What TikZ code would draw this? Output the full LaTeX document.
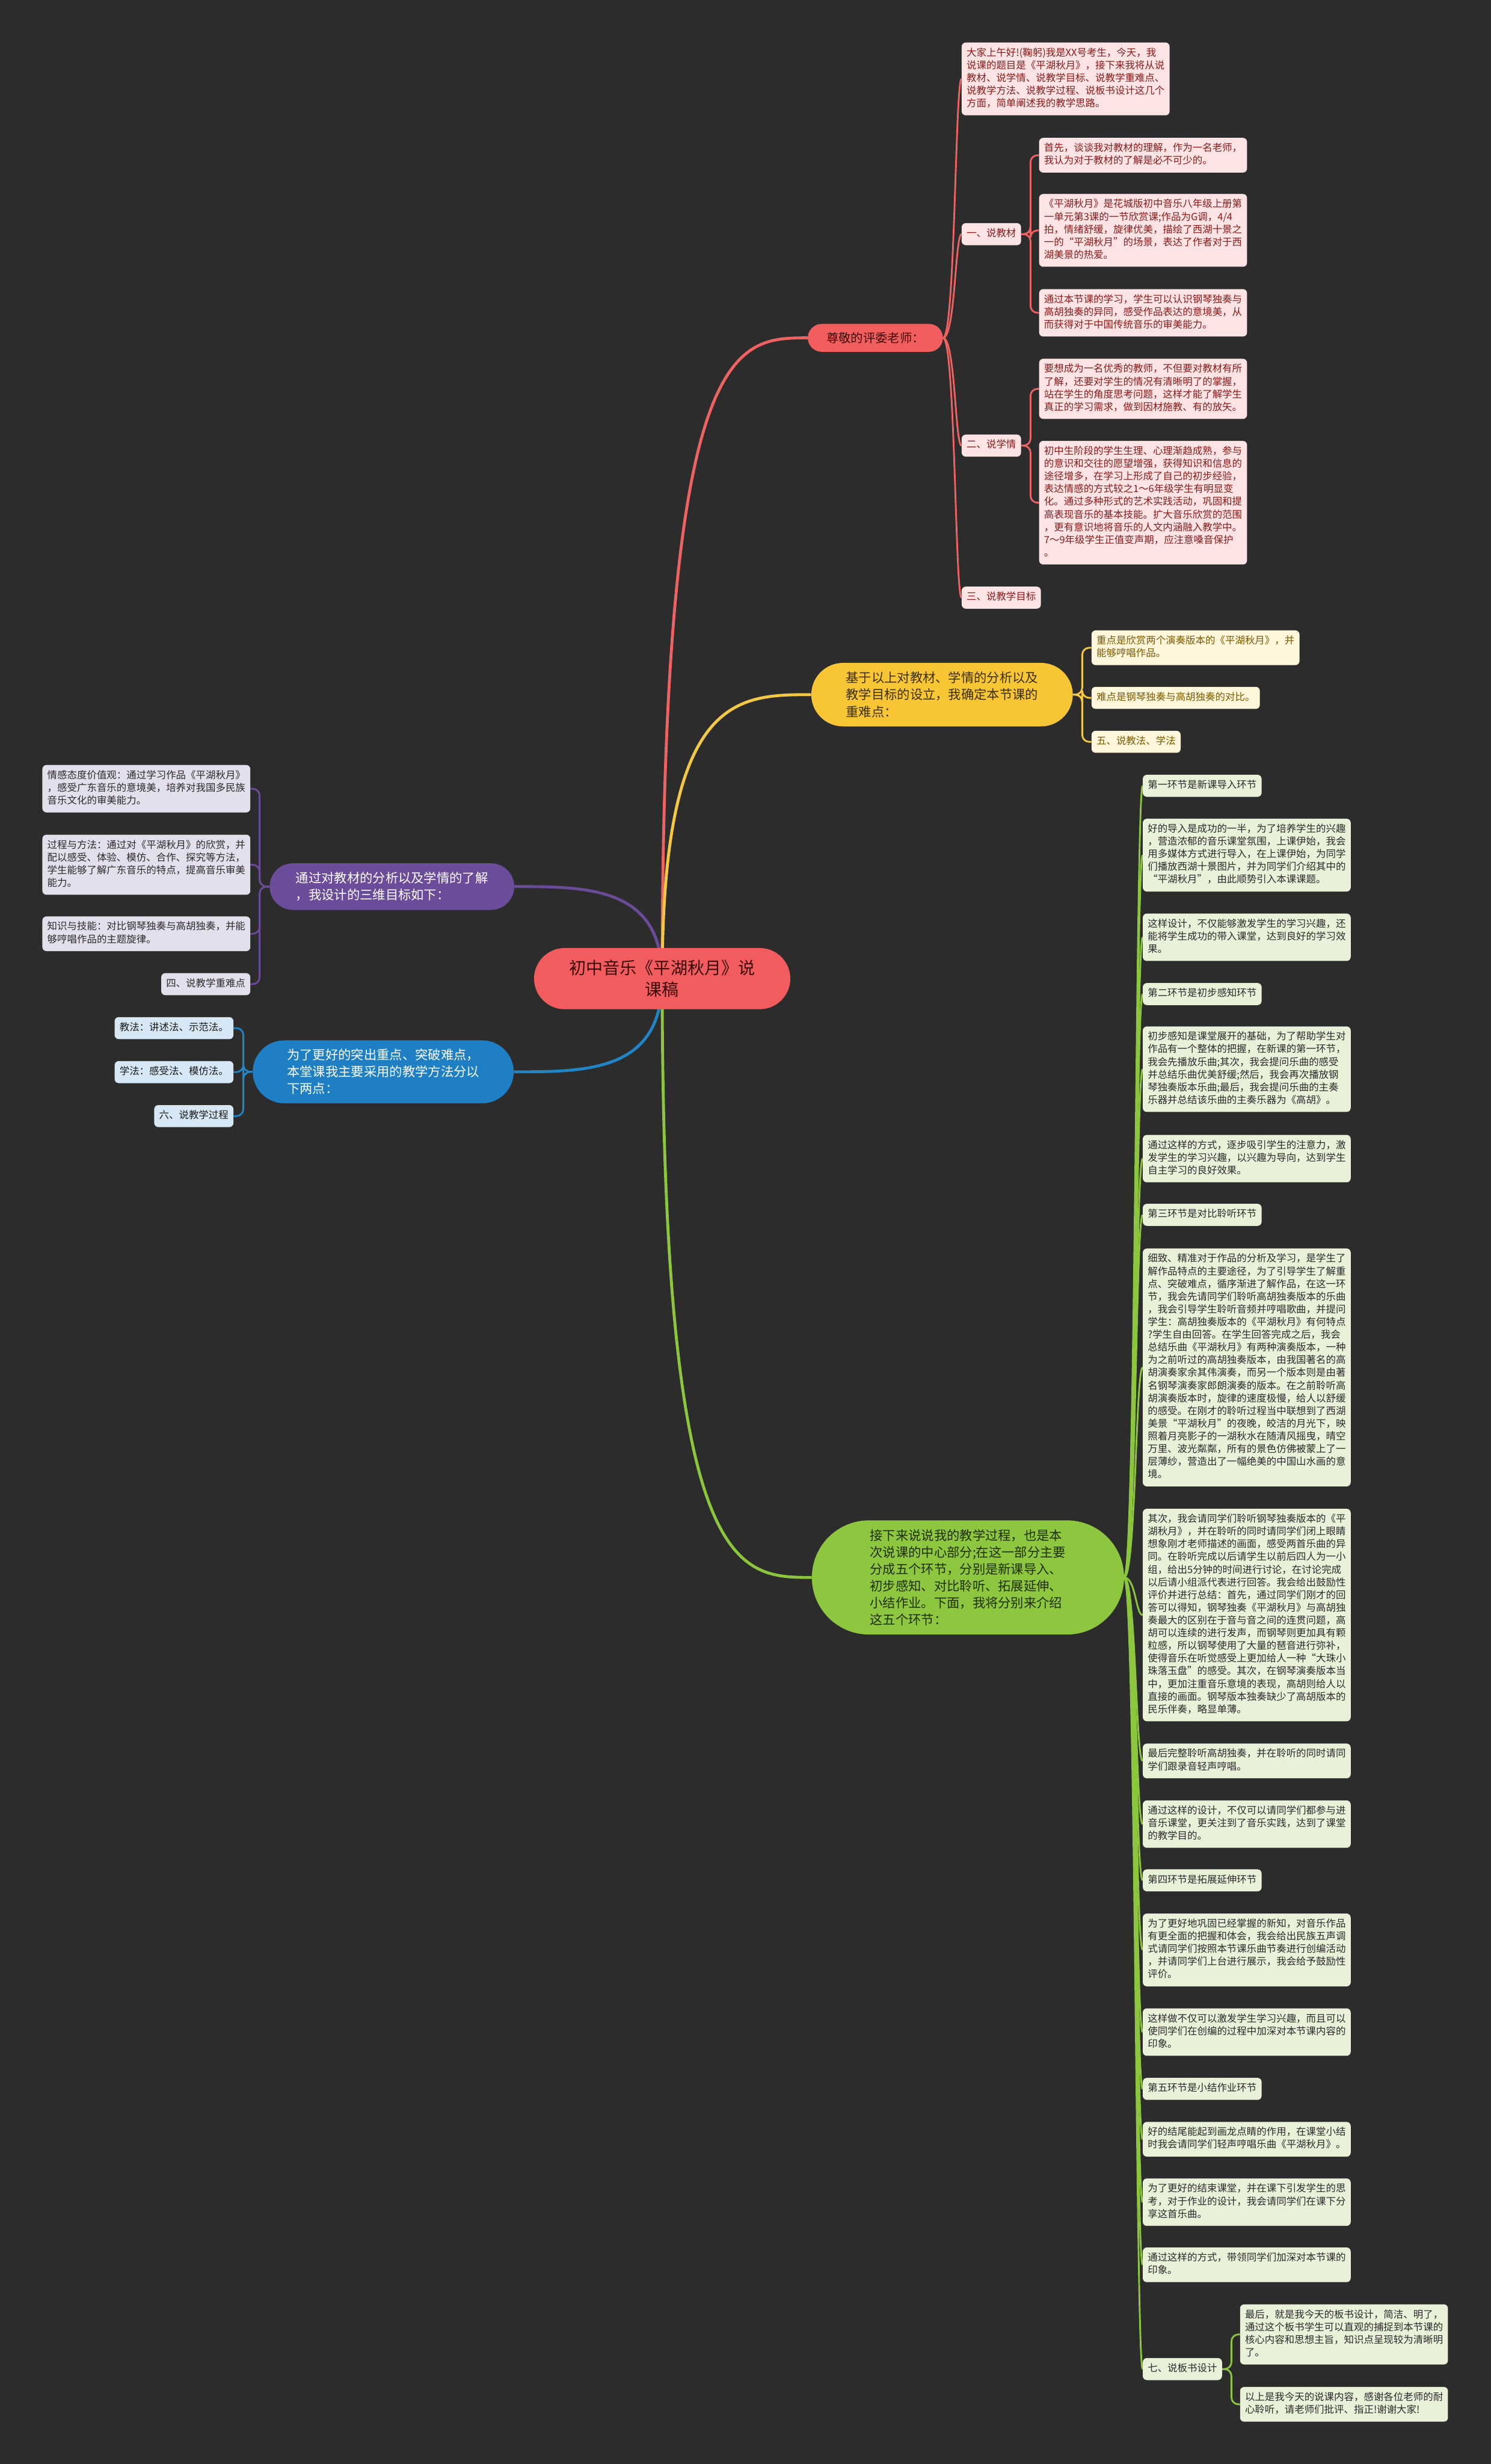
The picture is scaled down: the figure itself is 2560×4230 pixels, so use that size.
\documentclass[tikz,border=0pt]{standalone}
\usepackage{fontspec}
\setmainfont{Noto Sans CJK SC}
\usetikzlibrary{shapes.misc,calc}
\pgfdeclarelayer{back}
\pgfdeclarelayer{lines}
\pgfsetlayers{back,lines,main}
\definecolor{bgc}{HTML}{2C2C2C}
\definecolor{rootf}{HTML}{F25C5F}
\definecolor{roott}{HTML}{3A0A0A}
\definecolor{redl}{HTML}{EE6262}
\definecolor{redf}{HTML}{F25E5E}
\definecolor{redt}{HTML}{3A0A0A}
\definecolor{pinkf}{HTML}{FDE4E4}
\definecolor{pinkt}{HTML}{8B1A1A}
\definecolor{yell}{HTML}{F4C842}
\definecolor{yelf}{HTML}{F8C534}
\definecolor{yelt}{HTML}{3B2F00}
\definecolor{ylf}{HTML}{FFF6DB}
\definecolor{ylt}{HTML}{7A5A00}
\definecolor{purl}{HTML}{6A4B97}
\definecolor{purf}{HTML}{6B4C9A}
\definecolor{plf}{HTML}{E4DFEC}
\definecolor{plt}{HTML}{2A2A2A}
\definecolor{blul}{HTML}{2185C5}
\definecolor{bluf}{HTML}{1E7FC4}
\definecolor{blf}{HTML}{D6E8F5}
\definecolor{blt}{HTML}{1A1A1A}
\definecolor{grnl}{HTML}{8BC63D}
\definecolor{grnf}{HTML}{8DC63F}
\definecolor{grnt}{HTML}{1F2D00}
\definecolor{glf}{HTML}{EAF1D9}
\definecolor{glt}{HTML}{2A2A2A}
\newcommand{\leaffont}{\fontsize{17}{21.8}\selectfont}
\newcommand{\brfont}{\fontsize{22}{29}\selectfont}
\tikzset{
  leafbase/.style={rounded corners=7, inner xsep=8.5, inner ysep=8, align=left, font=\leaffont,
    execute at begin node=\strut, execute at end node=\strut},
  wide/.style={text width=340},
  pinkleaf/.style={leafbase, fill=pinkf, text=pinkt},
  yleaf/.style={leafbase, fill=ylf, text=ylt},
  pleaf/.style={leafbase, fill=plf, text=plt},
  bleaf/.style={leafbase, fill=blf, text=blt},
  gleaf/.style={leafbase, fill=glf, text=glt},
  branch/.style={rounded rectangle, inner sep=0, align=left, font=\brfont},
  rootline/.style={line width=5},
  subline/.style={line width=3},
  elbow/.style={line width=3, rounded corners=12},
}
\begin{document}
\begin{tikzpicture}[x=1pt,y=-1pt]
\useasboundingbox (0,0) rectangle (2560,4230);
\begin{pgfonlayer}{back}
\fill[bgc] (0,0) rectangle (2560,4230);
\end{pgfonlayer}

% root
\node[rounded rectangle, inner sep=0, minimum width=440, minimum height=105, fill=rootf, text=roott,
  align=center, font=\fontsize{29}{38}\selectfont] (root) at (1137,1680) {初中音乐《平湖秋月》说\\课稿};

% red branch
\node[rounded rectangle, inner sep=0, minimum width=232, minimum height=48, fill=redf, text=redt,
  font=\fontsize{21}{26}\selectfont] (zj) at (1503,580) {尊敬的评委老师：};
\node[pinkleaf,wide,anchor=west] (intro) at (1651,135.5) {大家上午好!(鞠躬)我是XX号考生，今天，我\\说课的题目是《平湖秋月》，接下来我将从说\\教材、说学情、说教学目标、说教学重难点、\\说教学方法、说教学过程、说板书设计这几个\\方面，简单阐述我的教学思路。};
\node[pinkleaf,anchor=west] (jc) at (1651,402) {一、说教材};
\node[pinkleaf,wide,anchor=west] (jc1) at (1784,266.5) {首先，谈谈我对教材的理解，作为一名老师，\\我认为对于教材的了解是必不可少的。};
\node[pinkleaf,wide,anchor=west] (jc2) at (1784,395.5) {《平湖秋月》是花城版初中音乐八年级上册第\\一单元第3课的一节欣赏课;作品为G调，4/4\\拍，情绪舒缓，旋律优美，描绘了西湖十景之\\一的“平湖秋月”的场景，表达了作者对于西\\湖美景的热爱。};
\node[pinkleaf,wide,anchor=west] (jc3) at (1784,537) {通过本节课的学习，学生可以认识钢琴独奏与\\高胡独奏的异同，感受作品表达的意境美，从\\而获得对于中国传统音乐的审美能力。};
\node[pinkleaf,anchor=west] (xq) at (1651,765) {二、说学情};
\node[pinkleaf,wide,anchor=west] (xq1) at (1784,667.5) {要想成为一名优秀的教师，不但要对教材有所\\了解，还要对学生的情况有清晰明了的掌握，\\站在学生的角度思考问题，这样才能了解学生\\真正的学习需求，做到因材施教、有的放矢。};
\node[pinkleaf,wide,anchor=west] (xq2) at (1784,863) {初中生阶段的学生生理、心理渐趋成熟，参与\\的意识和交往的愿望增强，获得知识和信息的\\途径增多，在学习上形成了自己的初步经验，\\表达情感的方式较之1～6年级学生有明显变\\化。通过多种形式的艺术实践活动，巩固和提\\高表现音乐的基本技能。扩大音乐欣赏的范围\\，更有意识地将音乐的人文内涵融入教学中。\\7～9年级学生正值变声期，应注意嗓音保护\\。};
\node[pinkleaf,anchor=west] (mb) at (1651,1026) {三、说教学目标};

% yellow branch
\node[branch, minimum width=449, minimum height=109, fill=yelf, text=yelt] (yel) at (1617.5,1192.5) {基于以上对教材、学情的分析以及\\教学目标的设立，我确定本节课的\\重难点：};
\node[yleaf,wide,anchor=west] (y1) at (1874,1112) {重点是欣赏两个演奏版本的《平湖秋月》，并\\能够哼唱作品。};
\node[yleaf,anchor=west] (y2) at (1874,1198) {难点是钢琴独奏与高胡独奏的对比。};
\node[yleaf,anchor=west] (y3) at (1874,1273.5) {五、说教法、学法};

% purple branch
\node[branch, minimum width=420, minimum height=80, fill=purf, text=white] (pur) at (673,1522) {通过对教材的分析以及学情的了解\\，我设计的三维目标如下：};
\node[pleaf,wide,anchor=east] (p1) at (430,1354) {情感态度价值观：通过学习作品《平湖秋月》\\，感受广东音乐的意境美，培养对我国多民族\\音乐文化的审美能力。};
\node[pleaf,wide,anchor=east] (p2) at (430,1484.5) {过程与方法：通过对《平湖秋月》的欣赏，并\\配以感受、体验、模仿、合作、探究等方法，\\学生能够了解广东音乐的特点，提高音乐审美\\能力。};
\node[pleaf,wide,anchor=east] (p3) at (430,1603) {知识与技能：对比钢琴独奏与高胡独奏，并能\\够哼唱作品的主题旋律。};
\node[pleaf,anchor=east] (p4) at (430,1689.5) {四、说教学重难点};

% blue branch
\node[branch, minimum width=448, minimum height=108, fill=bluf, text=white] (blu) at (658,1840) {为了更好的突出重点、突破难点，\\本堂课我主要采用的教学方法分以\\下两点：};
\node[bleaf,anchor=east] (b1) at (401,1765) {教法：讲述法、示范法。};
\node[bleaf,anchor=east] (b2) at (401,1840.5) {学法：感受法、模仿法。};
\node[bleaf,anchor=east] (b3) at (401,1916) {六、说教学过程};

% green branch
\node[branch, minimum width=536, minimum height=196, fill=grnf, text=grnt] (grn) at (1662,2708) {接下来说说我的教学过程，也是本\\次说课的中心部分;在这一部分主要\\分成五个环节，分别是新课导入、\\初步感知、对比聆听、拓展延伸、\\小结作业。下面，我将分别来介绍\\这五个环节：};
\node[gleaf,anchor=west] (g1) at (1962,1349) {第一环节是新课导入环节};
\node[gleaf,wide,anchor=west] (g2) at (1962,1468) {好的导入是成功的一半，为了培养学生的兴趣\\，营造浓郁的音乐课堂氛围，上课伊始，我会\\用多媒体方式进行导入，在上课伊始，为同学\\们播放西湖十景图片，并为同学们介绍其中的\\“平湖秋月”，由此顺势引入本课课题。};
\node[gleaf,wide,anchor=west] (g3) at (1962,1609) {这样设计，不仅能够激发学生的学习兴趣，还\\能将学生成功的带入课堂，达到良好的学习效\\果。};
\node[gleaf,anchor=west] (g4) at (1962,1706.5) {第二环节是初步感知环节};
\node[gleaf,wide,anchor=west] (g5) at (1962,1835.5) {初步感知是课堂展开的基础，为了帮助学生对\\作品有一个整体的把握，在新课的第一环节，\\我会先播放乐曲;其次，我会提问乐曲的感受\\并总结乐曲优美舒缓;然后，我会再次播放钢\\琴独奏版本乐曲;最后，我会提问乐曲的主奏\\乐器并总结该乐曲的主奏乐器为《高胡》。};
\node[gleaf,wide,anchor=west] (g6) at (1962,1989) {通过这样的方式，逐步吸引学生的注意力，激\\发学生的学习兴趣，以兴趣为导向，达到学生\\自主学习的良好效果。};
\node[gleaf,anchor=west] (g7) at (1962,2085.5) {第三环节是对比聆听环节};
\node[gleaf,wide,anchor=west] (g8) at (1962,2347.5) {细致、精准对于作品的分析及学习，是学生了\\解作品特点的主要途径，为了引导学生了解重\\点、突破难点，循序渐进了解作品，在这一环\\节，我会先请同学们聆听高胡独奏版本的乐曲\\，我会引导学生聆听音频并哼唱歌曲，并提问\\学生：高胡独奏版本的《平湖秋月》有何特点\\?学生自由回答。在学生回答完成之后，我会\\总结乐曲《平湖秋月》有两种演奏版本，一种\\为之前听过的高胡独奏版本，由我国著名的高\\胡演奏家余其伟演奏，而另一个版本则是由著\\名钢琴演奏家郎朗演奏的版本。在之前聆听高\\胡演奏版本时，旋律的速度极慢，给人以舒缓\\的感受。在刚才的聆听过程当中联想到了西湖\\美景“平湖秋月”的夜晚，皎洁的月光下，映\\照着月亮影子的一湖秋水在随清风摇曳，晴空\\万里、波光粼粼，所有的景色仿佛被蒙上了一\\层薄纱，营造出了一幅绝美的中国山水画的意\\境。};
\node[gleaf,wide,anchor=west] (g9) at (1962,2772.5) {其次，我会请同学们聆听钢琴独奏版本的《平\\湖秋月》，并在聆听的同时请同学们闭上眼睛\\想象刚才老师描述的画面，感受两首乐曲的异\\同。在聆听完成以后请学生以前后四人为一小\\组，给出5分钟的时间进行讨论，在讨论完成\\以后请小组派代表进行回答。我会给出鼓励性\\评价并进行总结：首先，通过同学们刚才的回\\答可以得知，钢琴独奏《平湖秋月》与高胡独\\奏最大的区别在于音与音之间的连贯问题，高\\胡可以连续的进行发声，而钢琴则更加具有颗\\粒感，所以钢琴使用了大量的琶音进行弥补，\\使得音乐在听觉感受上更加给人一种“大珠小\\珠落玉盘”的感受。其次，在钢琴演奏版本当\\中，更加注重音乐意境的表现，高胡则给人以\\直接的画面。钢琴版本独奏缺少了高胡版本的\\民乐伴奏，略显单薄。};
\node[gleaf,wide,anchor=west] (g10) at (1962,3023) {最后完整聆听高胡独奏，并在聆听的同时请同\\学们跟录音轻声哼唱。};
\node[gleaf,wide,anchor=west] (g11) at (1962,3131.5) {通过这样的设计，不仅可以请同学们都参与进\\音乐课堂，更关注到了音乐实践，达到了课堂\\的教学目的。};
\node[gleaf,anchor=west] (g12) at (1962,3228) {第四环节是拓展延伸环节};
\node[gleaf,wide,anchor=west] (g13) at (1962,3347.5) {为了更好地巩固已经掌握的新知，对音乐作品\\有更全面的把握和体会，我会给出民族五声调\\式请同学们按照本节课乐曲节奏进行创编活动\\，并请同学们上台进行展示，我会给予鼓励性\\评价。};
\node[gleaf,wide,anchor=west] (g14) at (1962,3488.5) {这样做不仅可以激发学生学习兴趣，而且可以\\使同学们在创编的过程中加深对本节课内容的\\印象。};
\node[gleaf,anchor=west] (g15) at (1962,3586) {第五环节是小结作业环节};
\node[gleaf,wide,anchor=west] (g16) at (1962,3672.5) {好的结尾能起到画龙点睛的作用，在课堂小结\\时我会请同学们轻声哼唱乐曲《平湖秋月》。};
\node[gleaf,wide,anchor=west] (g17) at (1962,3780.5) {为了更好的结束课堂，并在课下引发学生的思\\考，对于作业的设计，我会请同学们在课下分\\享这首乐曲。};
\node[gleaf,wide,anchor=west] (g18) at (1962,3888) {通过这样的方式，带领同学们加深对本节课的\\印象。};
\node[gleaf,anchor=west] (g19) at (1962,4067) {七、说板书设计};
\node[gleaf,wide,anchor=west] (g19a) at (2129,4007.5) {最后，就是我今天的板书设计，简洁、明了，\\通过这个板书学生可以直观的捕捉到本节课的\\核心内容和思想主旨，知识点呈现较为清晰明\\了。};
\node[gleaf,wide,anchor=west] (g19b) at (2129,4127.5) {以上是我今天的说课内容，感谢各位老师的耐\\心聆听，请老师们批评、指正!谢谢大家!};

% connectors
\begin{pgfonlayer}{lines}
\draw[rootline,redl] (root.center) .. controls (root.center |- zj.west) and ($(root.center |- zj.west)!0.5!(zj.west)$) .. (zj.west);
\draw[rootline,yell] (root.center) .. controls (root.center |- yel.west) and ($(root.center |- yel.west)!0.5!(yel.west)$) .. (yel.west);
\draw[rootline,grnl] (root.center) .. controls (root.center |- grn.west) and ($(root.center |- grn.west)!0.5!(grn.west)$) .. (grn.west);
\draw[rootline,purl] (root.center) .. controls (root.center |- pur.east) and ($(root.center |- pur.east)!0.5!(pur.east)$) .. (pur.east);
\draw[rootline,blul] (root.center) .. controls (root.center |- blu.east) and ($(root.center |- blu.east)!0.5!(blu.east)$) .. (blu.east);
\foreach \n in {intro,jc,xq,mb}
  \draw[subline,redl] (zj.east) .. controls ([xshift=21]zj.east) and ([xshift=-11]\n.west) .. (\n.west);
\foreach \n in {jc1,jc2,jc3}
  \draw[elbow,redl] (jc.east) -- ++(16,0) |- (\n.west);
\foreach \n in {xq1,xq2}
  \draw[elbow,redl] (xq.east) -- ++(16,0) |- (\n.west);
\foreach \n in {y1,y2,y3}
  \draw[elbow,yell] (yel.east) -- ++(16,0) |- (\n.west);
\foreach \n in {p1,p2,p3,p4}
  \draw[elbow,purl] (pur.west) -- ++(-17,0) |- (\n.east);
\foreach \n in {b1,b2,b3}
  \draw[elbow,blul] (blu.west) -- ++(-16,0) |- (\n.east);
\foreach \n in {g1,g2,g3,g4,g5,g6,g7,g8,g9,g10,g11,g12,g13,g14,g15,g16,g17,g18,g19}
  \draw[subline,grnl] (grn.east) .. controls ([xshift=20]grn.east) and ([xshift=-12]\n.west) .. (\n.west);
\foreach \n in {g19a,g19b}
  \draw[elbow,grnl] (g19.east) -- ++(16,0) |- (\n.west);
\end{pgfonlayer}
\end{tikzpicture}
\end{document}
